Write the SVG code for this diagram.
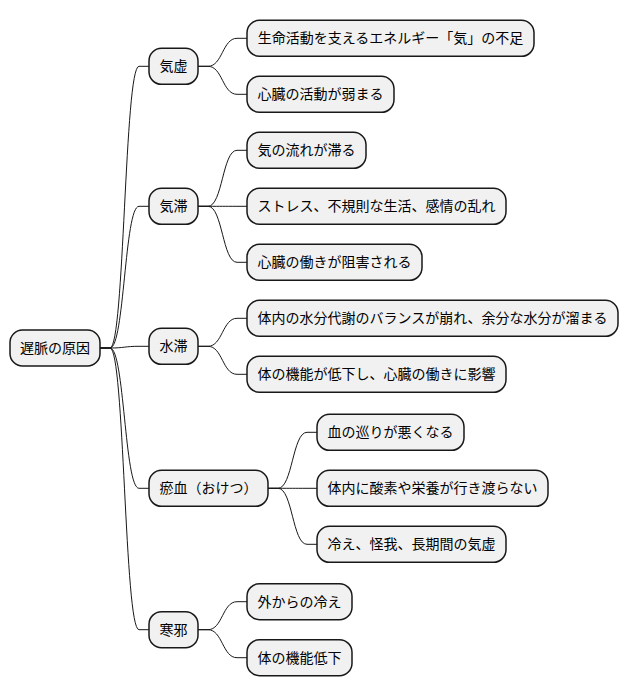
<svg xmlns="http://www.w3.org/2000/svg" width="628" height="696" viewBox="0 0 628 696">
<style>
.n{fill:#F1F1F1;stroke:#181818;stroke-width:1.5}
.t{font-family:"Noto Sans CJK JP","Noto Sans",sans-serif;font-size:14px;fill:#000;text-anchor:middle}
.c{fill:none;stroke:#181818;stroke-width:1}
</style>
<rect width="628" height="696" fill="#FFFFFF"/>
<g id="connectors">
<path class="c" d="M100,348 L110,348 C124.5,348 124.5,66.3 139,66.3 L149,66.3"/>
<path class="c" d="M100,348 L110,348 C124.5,348 124.5,206.3 139,206.3 L149,206.3"/>
<path class="c" d="M100,348 L110,348 C124.5,348 124.5,346.3 139,346.3 L149,346.3"/>
<path class="c" d="M100,348 L110,348 C124.5,348 124.5,488.3 139,488.3 L149,488.3"/>
<path class="c" d="M100,348 L110,348 C124.5,348 124.5,629.7 139,629.7 L149,629.7"/>
<path class="c" d="M198,66.3 L208,66.3 C222.5,66.3 222.5,38.3 237,38.3 L247,38.3"/>
<path class="c" d="M198,66.3 L208,66.3 C222.5,66.3 222.5,94.3 237,94.3 L247,94.3"/>
<path class="c" d="M198,206.3 L208,206.3 C222.5,206.3 222.5,150.3 237,150.3 L247,150.3"/>
<path class="c" d="M198,206.3 L208,206.3 C222.5,206.3 222.5,206.3 237,206.3 L247,206.3"/>
<path class="c" d="M198,206.3 L208,206.3 C222.5,206.3 222.5,262.3 237,262.3 L247,262.3"/>
<path class="c" d="M198,346.3 L208,346.3 C222.5,346.3 222.5,318.3 237,318.3 L247,318.3"/>
<path class="c" d="M198,346.3 L208,346.3 C222.5,346.3 222.5,374.3 237,374.3 L247,374.3"/>
<path class="c" d="M268,488.3 L278,488.3 C292.5,488.3 292.5,432.3 307,432.3 L317,432.3"/>
<path class="c" d="M268,488.3 L278,488.3 C292.5,488.3 292.5,488.3 307,488.3 L317,488.3"/>
<path class="c" d="M268,488.3 L278,488.3 C292.5,488.3 292.5,544.3 307,544.3 L317,544.3"/>
<path class="c" d="M198,629.7 L208,629.7 C222.5,629.7 222.5,601.7 237,601.7 L247,601.7"/>
<path class="c" d="M198,629.7 L208,629.7 C222.5,629.7 222.5,657.7 237,657.7 L247,657.7"/>
</g>
<g id="root"><rect class="n" x="10" y="330" width="90" height="36" rx="12.5"/><text class="t" x="55" y="353">遅脈の原因</text></g>
<g id="kikyo"><rect class="n" x="149" y="48.3" width="49" height="36" rx="12.5"/><text class="t" x="173.5" y="71.3">気虚</text></g>
<g id="kitai"><rect class="n" x="149" y="188.3" width="49" height="36" rx="12.5"/><text class="t" x="173.5" y="211.3">気滞</text></g>
<g id="suitai"><rect class="n" x="149" y="328.3" width="49" height="36" rx="12.5"/><text class="t" x="173.5" y="351.3">水滞</text></g>
<g id="oketsu"><rect class="n" x="149" y="470.3" width="119" height="36" rx="12.5"/><text class="t" x="208.5" y="493.3">瘀血（おけつ）</text></g>
<g id="kanja"><rect class="n" x="149" y="611.7" width="49" height="36" rx="12.5"/><text class="t" x="173.5" y="634.7">寒邪</text></g>
<g id="c1"><rect class="n" x="247" y="20.3" width="287" height="36" rx="12.5"/><text class="t" x="390.5" y="43.3">生命活動を支えるエネルギー「気」の不足</text></g>
<g id="c2"><rect class="n" x="247" y="76.3" width="147" height="36" rx="12.5"/><text class="t" x="320.5" y="99.3">心臓の活動が弱まる</text></g>
<g id="c3"><rect class="n" x="247" y="132.3" width="119" height="36" rx="12.5"/><text class="t" x="306.5" y="155.3">気の流れが滞る</text></g>
<g id="c4"><rect class="n" x="247" y="188.3" width="259" height="36" rx="12.5"/><text class="t" x="376.5" y="211.3">ストレス、不規則な生活、感情の乱れ</text></g>
<g id="c5"><rect class="n" x="247" y="244.3" width="175" height="36" rx="12.5"/><text class="t" x="334.5" y="267.3">心臓の働きが阻害される</text></g>
<g id="c6"><rect class="n" x="247" y="300.3" width="371" height="36" rx="12.5"/><text class="t" x="432.5" y="323.3">体内の水分代謝のバランスが崩れ、余分な水分が溜まる</text></g>
<g id="c7"><rect class="n" x="247" y="356.3" width="259" height="36" rx="12.5"/><text class="t" x="376.5" y="379.3">体の機能が低下し、心臓の働きに影響</text></g>
<g id="c8"><rect class="n" x="317" y="414.3" width="147" height="36" rx="12.5"/><text class="t" x="390.5" y="437.3">血の巡りが悪くなる</text></g>
<g id="c9"><rect class="n" x="317" y="470.3" width="231" height="36" rx="12.5"/><text class="t" x="432.5" y="493.3">体内に酸素や栄養が行き渡らない</text></g>
<g id="c10"><rect class="n" x="317" y="526.3" width="189" height="36" rx="12.5"/><text class="t" x="411.5" y="549.3">冷え、怪我、長期間の気虚</text></g>
<g id="c11"><rect class="n" x="247" y="583.7" width="105" height="36" rx="12.5"/><text class="t" x="299.5" y="606.7">外からの冷え</text></g>
<g id="c12"><rect class="n" x="247" y="639.7" width="105" height="36" rx="12.5"/><text class="t" x="299.5" y="662.7">体の機能低下</text></g>
</svg>
